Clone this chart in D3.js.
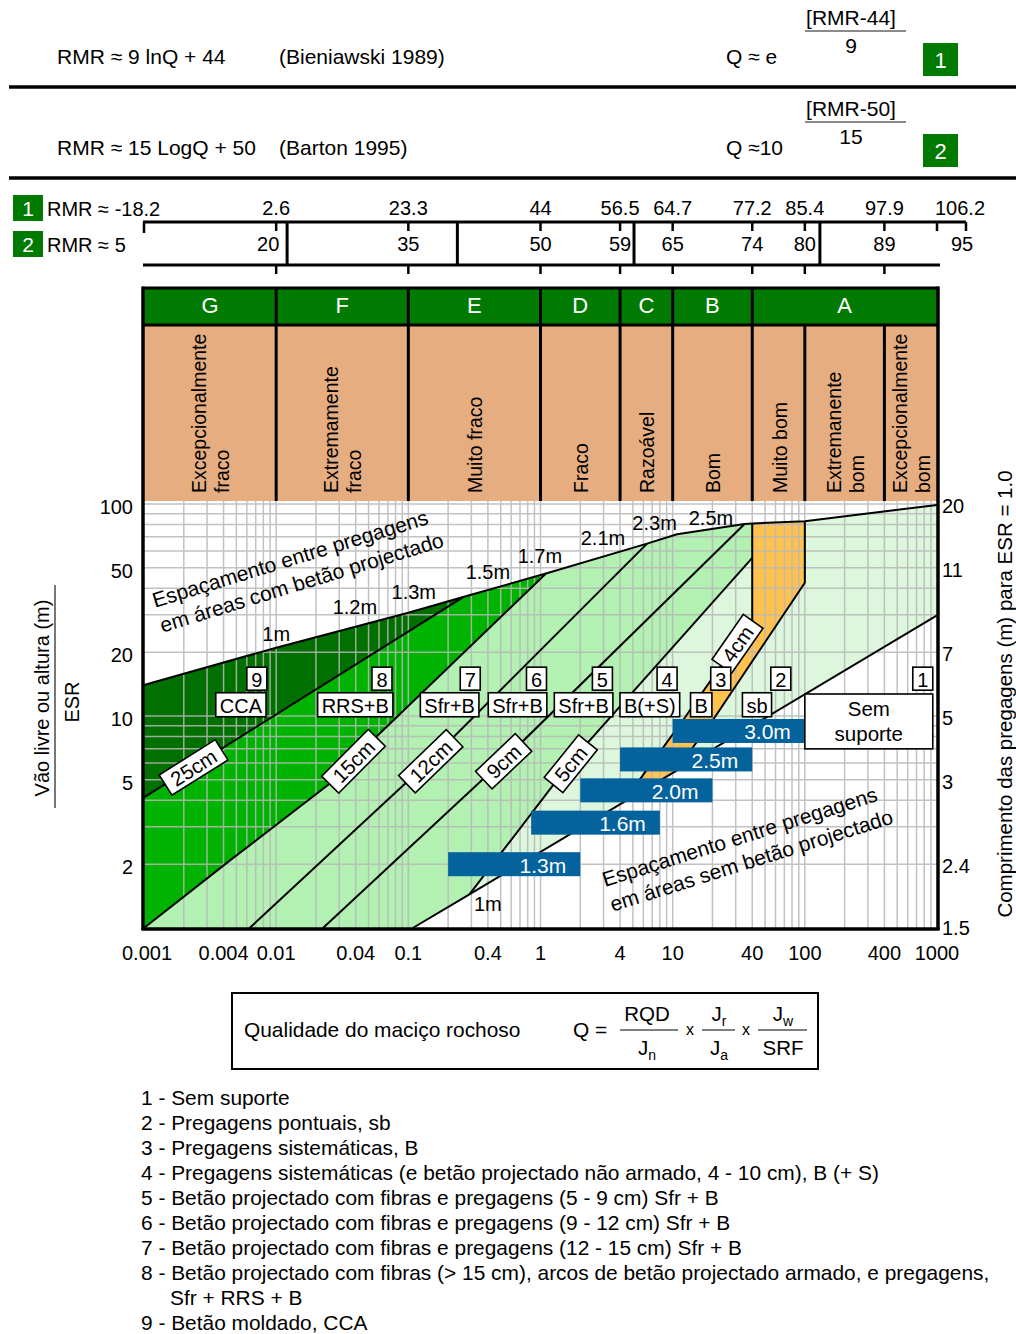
<!DOCTYPE html>
<html lang="pt">
<head>
<meta charset="utf-8">
<title>Sistema Q – classes de suporte</title>
<script src="https://cdn.jsdelivr.net/npm/d3@7/dist/d3.min.js"></script>
<style>
  html,body{margin:0;padding:0;background:#fff;}
  svg{display:block;}
  text{font-family:"Liberation Sans",Arial,Helvetica,sans-serif;fill:#000;}
</style>
</head>
<body>
<svg id="chart" width="1016" height="1334" viewBox="0 0 1016 1334"></svg>
<script>
// ---------------- data ----------------
// Q axis ticks
const qTickValues = [0.001,0.004,0.01,0.04,0.1,0.4,1,4,10,40,100,400,1000];
const qTickLabels = ["0.001","0.004","0.01","0.04","0.1","0.4","1","4","10","40","100","400","1000"];
// Span/ESR axis ticks and the matching bolt lengths (ESR = 1)
const spanTickValues = [1,2,5,10,20,50,100];
const spanTickLabels = ["","2","5","10","20","50","100"];
const boltLengthLabels = ["1.5","2.4","3","5","7","11","20"];

// RMR correlation rows
const formulaLeft = ["RMR \u2248 9 lnQ + 44","RMR \u2248 15 LogQ + 50"];
const formulaRef = ["(Bieniawski 1989)","(Barton 1995)"];
const formulaInverse = ["Q \u2248 e","Q \u224810"];
const formulaNumerator = ["[RMR-44]","[RMR-50]"];
const formulaDenominator = ["9","15"];
const rmrScaleQ = [0.001,0.01,0.1,1,4,10,40,100,400,1000];
const rmr1Labels = ["-18.2","2.6","23.3","44","56.5","64.7","77.2","85.4","97.9","106.2"];
const rmr2Labels = ["5","20","35","50","59","65","74","80","89","95"];
const rmrClassBreaksQ = [0.0121,0.235,5.1,130];

// rock mass classes
const classLetters = ["G","F","E","D","C","B","A"];
const classBounds = [0.001,0.01,0.1,1,4,10,40,1000];
const qualityNames = [["Excepcionalmente","fraco"],["Extremamente","fraco"],["Muito fraco"],["Fraco"],
  ["Razoável"],["Bom"],["Muito bom"],["Extremanente","bom"],["Excepcionalmente","bom"]];
const qualityBounds = [0.001,0.01,0.1,1,4,10,40,100,400,1000];

// support category boundaries, [Q, Span/ESR]
const topLine = [[0.001,14],[0.01,21],[0.1,30.7],[0.26,36.4],[1.1,47],[6.4,65],[10.8,72],[35,80.5],[40,81],[100,83],[1000,99]];
const line25cm = [[0.001,4.13],[0.26,36.4]];
const line15cm = [[0.001,1],[0.0045,2.09],[0.0255,4.8],[0.061,8.3],[1.1,47]];
const line12cm = [[0.0063,1],[0.146,6.17],[6.4,65]];
const line9cm = [[0.0226,1],[0.54,6.3],[35,80.5]];
const line5cm = [[0.29,1.44],[1.73,6.17],[40,55.7]];
const line4cm = [[40,81],[40,28.1],[11.9,9.5],[4.2,3.9]];
const lineSpotBolting = [[100,83],[100,42.5],[20,9.5],[10.4,5.46]];
const lineUnsupported = [[0.108,1],[0.29,1.44],[4.2,3.9],[10.4,5.46],[1000,29.8]];

// shotcrete thickness labels
const thicknessText = ["25cm","15cm","12cm","9cm","5cm","4cm"];
const thicknessLines = [line25cm,line15cm,line12cm,line9cm,line5cm,line4cm];
const thicknessQ = [0.00235,0.038,0.146,0.52,1.67,30.5];

// bolt spacing in shotcreted areas (along upper boundary)
const spacingTopText = ["1m","1.2m","1.3m","1.5m","1.7m","2.1m","2.3m","2.5m"];
const spacingTopQ = [0.01,0.0394,0.11,0.4,0.99,2.97,7.3,19.5];
const spacingTopSpan = [24.4,32.7,38.6,47.7,57,69,81,86];

// bolt spacing in unshotcreted areas
const barText = ["1.3m","1.6m","2.0m","2.5m","3.0m"];
const barStartQ = [0.2,0.85,2,4,10];
const barEndQ = [2,8,20,40,100];
const barSpan = [2.0,3.14,4.46,6.24,8.5];

// support category tags
const regionNumbers = ["9","8","7","6","5","4","3","2","1"];
const regionNumberQ = [0.0085,0.0752,0.35,1.11,3.5,10.8,27.5,78.3,929];
const regionCodes = ["CCA","RRS+B","Sfr+B","Sfr+B","Sfr+B","B(+S)","B","sb"];
const regionCodeQ = [0.00838,0.0764,0.342,1.117,3.53,11.3,19.8,56];

// notes
const shotcreteNote = ["Espaçamento entre pregagens","em áreas com betão projectado"];
const plainNote = ["Espaçamento entre pregagens","em áreas sem betão projectado"];

const legendItems = [
  "1 - Sem suporte",
  "2 - Pregagens pontuais, sb",
  "3 - Pregagens sistemáticas, B",
  "4 - Pregagens sistemáticas (e betão projectado não armado, 4 - 10 cm), B (+ S)",
  "5 - Betão projectado com fibras e pregagens (5 - 9 cm) Sfr + B",
  "6 - Betão projectado com fibras e pregagens (9 - 12 cm) Sfr + B",
  "7 - Betão projectado com fibras e pregagens (12 - 15 cm) Sfr + B",
  "8 - Betão projectado com fibras (> 15 cm), arcos de betão projectado armado, e pregagens,",
  "Sfr + RRS + B",
  "9 - Betão moldado, CCA"
];

// ---------------- drawing ----------------
const svg = d3.select("#chart");
const plot = {left:144, right:937, top:504, bottom:928};
const x = d3.scaleLog().domain([0.001,1000]).range([plot.left, plot.right]);
const y = d3.scaleLog().domain([1,100]).range([plot.bottom, plot.top]);

const COL = {
  green:"#017a01", tan:"#e5ad80", r9:"#007000", r8:"#00b300", r567:"#b3f1b3",
  r4:"#dcf7dc", r3:"#ffc24f", r2:"#dcf7dc", bar:"#04629c", grid:"#b8b8b8"
};
const line = d3.line().x(d => x(d[0])).y(d => y(d[1]));

function boxedText(g, str, cx, cy, size, padX, h) {
  const t = g.append("text").attr("x", cx).attr("y", cy).attr("text-anchor","middle")
    .attr("dominant-baseline","central").style("font-size", size + "px").text(str);
  const w = t.node().getComputedTextLength() + 2 * padX;
  g.insert("rect","text").attr("x", cx - w / 2).attr("y", cy - h / 2).attr("width", w).attr("height", h)
    .attr("fill","#fff").attr("stroke","#000").attr("stroke-width",1.6);
  return w;
}

// ----- correlation rows -----
const corr = svg.append("g");
formulaLeft.forEach((txt, i) => {
  const r = i * 91;
  corr.append("text").attr("x",57).attr("y",r + 64).style("font-size","21px").text(txt);
  corr.append("text").attr("x",279).attr("y",r + 64).style("font-size","21px").text(formulaRef[i]);
  corr.append("text").attr("x",726).attr("y",r + 64).style("font-size","21px").text(formulaInverse[i]);
  corr.append("text").attr("x",851).attr("y",r + 25).attr("text-anchor","middle").style("font-size","21px").text(formulaNumerator[i]);
  corr.append("line").attr("x1",805).attr("x2",906).attr("y1",r + 31).attr("y2",r + 31).attr("stroke","#8a8a8a").attr("stroke-width",2);
  corr.append("text").attr("x",851).attr("y",r + 53).attr("text-anchor","middle").style("font-size","21px").text(formulaDenominator[i]);
  corr.append("rect").attr("x",923).attr("y",r + 43).attr("width",35).attr("height",33).attr("fill",COL.green);
  corr.append("text").attr("x",940.5).attr("y",r + 60).attr("text-anchor","middle").attr("dominant-baseline","central")
    .style("font-size","22px").style("fill","#fff").text(String(i + 1));
  corr.append("line").attr("x1",9).attr("x2",1016).attr("y1",r + 87).attr("y2",r + 87).attr("stroke","#000").attr("stroke-width",3.5);
});

// ----- RMR scales -----
const rmr = svg.append("g");
[[rmr1Labels, 195, 216], [rmr2Labels, 231, 252]].forEach(([labels, by, base], i) => {
  rmr.append("rect").attr("x",13).attr("y",by).attr("width",30).attr("height",26).attr("fill",COL.green);
  rmr.append("text").attr("x",28).attr("y",by + 13).attr("text-anchor","middle").attr("dominant-baseline","central")
    .style("font-size","21px").style("fill","#fff").text(String(i + 1));
  rmr.append("text").attr("x",47).attr("y",base).style("font-size","20px").text("RMR \u2248 " + labels[0]);
});
rmr.append("line").attr("x1",143).attr("x2",966).attr("y1",222).attr("y2",222).attr("stroke","#000").attr("stroke-width",3);
rmr.append("line").attr("x1",143).attr("x2",940).attr("y1",265).attr("y2",265).attr("stroke","#000").attr("stroke-width",3);
rmrScaleQ.forEach((q, i) => {
  rmr.append("line").attr("x1",x(q)).attr("x2",x(q)).attr("y1",222).attr("y2",i === 0 ? 233 : 231).attr("stroke","#000").attr("stroke-width",2.5);
  if (i > 0 && i < rmrScaleQ.length - 1)
    rmr.append("line").attr("x1",x(q)).attr("x2",x(q)).attr("y1",265).attr("y2",274).attr("stroke","#000").attr("stroke-width",2.5);
  if (i > 0) {
    const last = i === rmrScaleQ.length - 1;
    rmr.append("text").attr("x",x(q) + (last ? 23 : 0)).attr("y",215).attr("text-anchor","middle").style("font-size","20px").text(rmr1Labels[i]);
    rmr.append("text").attr("x",x(q) + (last ? 25 : (i === 1 ? -8 : 0))).attr("y",251).attr("text-anchor","middle").style("font-size","20px").text(rmr2Labels[i]);
  }
});
rmr.append("line").attr("x1",966).attr("x2",966).attr("y1",222).attr("y2",231).attr("stroke","#000").attr("stroke-width",2.5);
rmrClassBreaksQ.forEach(q => {
  rmr.append("line").attr("x1",x(q)).attr("x2",x(q)).attr("y1",222).attr("y2",265).attr("stroke","#000").attr("stroke-width",3);
});

// ----- class header -----
const hdr = svg.append("g");
const hTop = 288, hMid = 325, hBot = 501;
hdr.append("rect").attr("x",plot.left).attr("y",hTop).attr("width",plot.right - plot.left).attr("height",hMid - hTop).attr("fill",COL.green);
hdr.append("rect").attr("x",plot.left).attr("y",hMid).attr("width",plot.right - plot.left).attr("height",hBot - hMid).attr("fill",COL.tan);
classLetters.forEach((c, i) => {
  const cx = (x(classBounds[i]) + x(classBounds[i + 1])) / 2;
  hdr.append("text").attr("x",cx).attr("y",313).attr("text-anchor","middle").style("font-size","22px").style("fill","#fff").text(c);
  if (i > 0) hdr.append("line").attr("x1",x(classBounds[i])).attr("x2",x(classBounds[i])).attr("y1",hTop).attr("y2",hMid)
    .attr("stroke","#000").attr("stroke-width",3);
});
qualityNames.forEach((names, i) => {
  const cx = (x(qualityBounds[i]) + x(qualityBounds[i + 1])) / 2;
  const offs = names.length === 1 ? [8] : [-4, 19];
  names.forEach((nm, j) => {
    hdr.append("text").attr("transform",`translate(${cx + offs[j]},493) rotate(-90)`).style("font-size","19.5px").text(nm);
  });
  if (i > 0) hdr.append("line").attr("x1",x(qualityBounds[i])).attr("x2",x(qualityBounds[i])).attr("y1",hMid).attr("y2",hBot)
    .attr("stroke","#000").attr("stroke-width",3);
});
hdr.append("line").attr("x1",plot.left).attr("x2",plot.right).attr("y1",hMid).attr("y2",hMid).attr("stroke","#000").attr("stroke-width",3);
hdr.append("line").attr("x1",plot.left - 1.5).attr("x2",plot.right + 1.5).attr("y1",hTop).attr("y2",hTop).attr("stroke","#000").attr("stroke-width",3);

// ----- support regions -----
const regions = [
  {fill: COL.r9, pts: [...topLine.filter(p => p[0] <= 0.26), ...line25cm.slice().reverse()]},
  {fill: COL.r8, pts: [...line25cm, ...topLine.filter(p => p[0] > 0.26 && p[0] <= 1.1), ...line15cm.slice().reverse()]},
  {fill: COL.r567, pts: [...line15cm, ...topLine.filter(p => p[0] > 1.1 && p[0] <= 40), ...line5cm.slice().reverse(), lineUnsupported[0]]},
  {fill: COL.r4, pts: [...line5cm, ...line4cm.slice(1)]},
  {fill: COL.r3, pts: [...line4cm, ...lineSpotBolting.slice().reverse()]},
  {fill: COL.r2, pts: [...lineSpotBolting.slice().reverse(), ...topLine.filter(p => p[0] > 100), lineUnsupported[lineUnsupported.length - 1]]}
];
const reg = svg.append("g");
reg.selectAll("path").data(regions).join("path")
  .attr("d", d => line(d.pts) + "Z").attr("fill", d => d.fill).attr("stroke","none");

// ----- log grid -----
const grid = svg.append("g").attr("stroke",COL.grid).attr("stroke-width",1.5).attr("opacity",0.85);
const gridQ = [];
for (let n = -3; n <= 2; n++) for (let k = 1; k <= 9; k++) gridQ.push(k * Math.pow(10, n));
gridQ.push(1000);
const gridS = [];
for (let n = 0; n <= 1; n++) for (let k = 1; k <= 9; k++) gridS.push(k * Math.pow(10, n));
gridS.push(100);
grid.selectAll("line.v").data(gridQ.slice(1, -1)).join("line").attr("class","v")
  .attr("x1", d => x(d)).attr("x2", d => x(d)).attr("y1", plot.top - 3).attr("y2", plot.bottom);
grid.selectAll("line.h").data(gridS.slice(1)).join("line").attr("class","h")
  .attr("x1", plot.left).attr("x2", plot.right).attr("y1", d => y(d)).attr("y2", d => y(d));

// ----- boundary lines -----
const bnd = svg.append("g").attr("fill","none").attr("stroke","#000").attr("stroke-width",2).attr("stroke-linejoin","round");
[topLine, line25cm, line15cm, line12cm, line9cm, line5cm, line4cm, lineSpotBolting, lineUnsupported]
  .forEach(l => bnd.append("path").attr("d", line(l)));

// ----- bolt spacing bars -----
const bars = svg.append("g");
barText.forEach((t, i) => {
  const x0 = x(barStartQ[i]), x1 = x(barEndQ[i]), cy = y(barSpan[i]);
  bars.append("rect").attr("x", x0).attr("y", cy - 12).attr("width", x1 - x0).attr("height", 24).attr("fill", COL.bar);
  bars.append("text").attr("x", x1 - 14).attr("y", cy + 1).attr("text-anchor","end").attr("dominant-baseline","central")
    .style("font-size","21px").style("fill","#fff").text(t);
});

// unsupported box
const ub = svg.append("g");
const ubx0 = x(100), ubx1 = x(929), uby0 = y(12.7), uby1 = y(7.0);
ub.append("rect").attr("x",ubx0).attr("y",uby0).attr("width",ubx1 - ubx0).attr("height",uby1 - uby0)
  .attr("fill","#fff").attr("stroke","#000").attr("stroke-width",1.6);
ub.append("text").attr("x",(ubx0 + ubx1) / 2).attr("y",uby0 + 15).attr("text-anchor","middle").attr("dominant-baseline","central").style("font-size","20.5px").text("Sem");
ub.append("text").attr("x",(ubx0 + ubx1) / 2).attr("y",uby0 + 40).attr("text-anchor","middle").attr("dominant-baseline","central").style("font-size","20.5px").text("suporte");

// ----- spacing labels -----
const sp = svg.append("g");
spacingTopText.forEach((t, i) => {
  sp.append("text").attr("x", x(spacingTopQ[i])).attr("y", y(spacingTopSpan[i])).attr("text-anchor","middle")
    .attr("dominant-baseline","central").style("font-size","20px").text(t);
});
sp.append("text").attr("x", x(0.4)).attr("y", y(1.3)).attr("text-anchor","middle").attr("dominant-baseline","central")
  .style("font-size","20px").text("1m");

// ----- thickness labels on their lines -----
function pointOn(l, q) {
  const lq = Math.log10(q);
  for (let i = 0; i < l.length - 1; i++) {
    const a = l[i], b = l[i + 1];
    const la = Math.log10(a[0]), lb = Math.log10(b[0]);
    if (la === lb) continue;
    const t = (lq - la) / (lb - la);
    if (t >= 0 && t <= 1) return [q, Math.pow(10, Math.log10(a[1]) + t * (Math.log10(b[1]) - Math.log10(a[1])))];
  }
  return null;
}
const th = svg.append("g");
thicknessText.forEach((t, i) => {
  const l = thicknessLines[i], q = thicknessQ[i];
  const p = pointOn(l, q), p1 = pointOn(l, q / 1.15), p2 = pointOn(l, q * 1.15);
  const ang = Math.atan2(y(p2[1]) - y(p1[1]), x(p2[0]) - x(p1[0])) * 180 / Math.PI;
  const g = th.append("g").attr("transform", `translate(${x(p[0])},${y(p[1])}) rotate(${ang})`);
  boxedText(g, t, 0, 1, 20.5, 8, 24);
});

// ----- category tags -----
const tags = svg.append("g");
regionNumbers.forEach((n, i) => {
  const xr = x(regionNumberQ[i]);
  const g = tags.append("g");
  g.append("rect").attr("x", xr - 20).attr("y", y(15) - 11.5).attr("width", 20).attr("height", 23)
    .attr("fill","#fff").attr("stroke","#000").attr("stroke-width",1.6);
  g.append("text").attr("x", xr - 10).attr("y", y(15) + 1).attr("text-anchor","middle").attr("dominant-baseline","central")
    .style("font-size","20px").text(n);
});
regionCodes.forEach((c, i) => {
  const xr = x(regionCodeQ[i]);
  const g = tags.append("g");
  const t = g.append("text").attr("y", y(11.3) + 1).attr("text-anchor","end").attr("dominant-baseline","central")
    .style("font-size","20px").text(c);
  const w = t.node().getComputedTextLength() + 8;
  t.attr("x", xr - 4);
  g.insert("rect","text").attr("x", xr - w).attr("y", y(11.3) - 12).attr("width", w).attr("height", 24)
    .attr("fill","#fff").attr("stroke","#000").attr("stroke-width",1.6);
});

// ----- notes -----
function note(lines, q, s, ang) {
  const g = svg.append("g").attr("transform", `translate(${x(q)},${y(s)}) rotate(${ang})`);
  lines.forEach((t, j) => g.append("text").attr("x", 0).attr("y", j * 26).style("font-size","21px").text(t));
}
note(shotcreteNote, 0.00121, 32.4, -17);
note(plainNote, 3.07, 1.56, -17.5);

// ----- plot frame -----
const fr = svg.append("g").attr("stroke","#000").attr("stroke-width",3.5);
fr.append("line").attr("x1",plot.left - 1).attr("x2",plot.left - 1).attr("y1",hTop - 1.5).attr("y2",plot.bottom + 2);
fr.append("line").attr("x1",plot.right + 1).attr("x2",plot.right + 1).attr("y1",hTop - 1.5).attr("y2",plot.bottom + 2);
fr.append("line").attr("x1",plot.left - 2.5).attr("x2",plot.right + 2.5).attr("y1",plot.bottom + 1).attr("y2",plot.bottom + 1);

// ----- axes labels -----
const ax = svg.append("g");
qTickValues.forEach((q, i) => {
  ax.append("text").attr("x", x(q) + (i === 0 ? 3 : 0)).attr("y", 960).attr("text-anchor","middle").style("font-size","20px").text(qTickLabels[i]);
});
spanTickValues.forEach((s, i) => {
  if (spanTickLabels[i]) ax.append("text").attr("x",133).attr("y", y(s) + 3).attr("text-anchor","end")
    .attr("dominant-baseline","central").style("font-size","20px").text(spanTickLabels[i]);
  ax.append("text").attr("x",942).attr("y", y(s) + (i === 0 ? 0 : 2)).attr("dominant-baseline","central")
    .style("font-size","20px").text(boltLengthLabels[i]);
});
ax.append("text").attr("transform","translate(49,698) rotate(-90)").attr("text-anchor","middle").style("font-size","20px").text("Vão livre ou altura (m)");
ax.append("line").attr("x1",55).attr("x2",55).attr("y1",585).attr("y2",808).attr("stroke","#777").attr("stroke-width",2);
ax.append("text").attr("transform","translate(79,702) rotate(-90)").attr("text-anchor","middle").style("font-size","20px").text("ESR");
ax.append("text").attr("transform","translate(1012,694) rotate(-90)").attr("text-anchor","middle").style("font-size","20.5px")
  .text("Comprimento das pregagens (m) para ESR = 1.0");

// ----- Q definition box -----
const qb = svg.append("g");
qb.append("rect").attr("x",232).attr("y",993).attr("width",586).attr("height",76).attr("fill","#fff").attr("stroke","#000").attr("stroke-width",2);
qb.append("text").attr("x",244).attr("y",1037).style("font-size","20.9px").text("Qualidade do maciço rochoso");
qb.append("text").attr("x",573).attr("y",1037).style("font-size","20.9px").text("Q =");
function frac(cx, x0, x1, num, den) {
  const n = qb.append("text").attr("x",cx).attr("y",1021).attr("text-anchor","middle").style("font-size","20.5px");
  n.append("tspan").text(num[0]);
  if (num[1]) n.append("tspan").attr("dy",5).style("font-size","14px").text(num[1]);
  qb.append("line").attr("x1",x0).attr("x2",x1).attr("y1",1030).attr("y2",1030).attr("stroke","#555").attr("stroke-width",1.5);
  const d = qb.append("text").attr("x",cx).attr("y",1055).attr("text-anchor","middle").style("font-size","20.5px");
  d.append("tspan").text(den[0]);
  if (den[1]) d.append("tspan").attr("dy",5).style("font-size","14px").text(den[1]);
}
frac(647, 620, 678, ["RQD"], ["J","n"]);
frac(719, 702, 735, ["J","r"], ["J","a"]);
frac(783, 758, 807, ["J","w"], ["SRF"]);
qb.append("text").attr("x",690).attr("y",1035).attr("text-anchor","middle").style("font-size","16px").text("x");
qb.append("text").attr("x",746).attr("y",1035).attr("text-anchor","middle").style("font-size","16px").text("x");

// ----- legend -----
const lg = svg.append("g");
legendItems.forEach((t, i) => {
  lg.append("text").attr("x", i === 8 ? 170 : 141).attr("y", 1105 + i * 25).style("font-size","20.9px").text(t);
});
</script>
</body>
</html>
